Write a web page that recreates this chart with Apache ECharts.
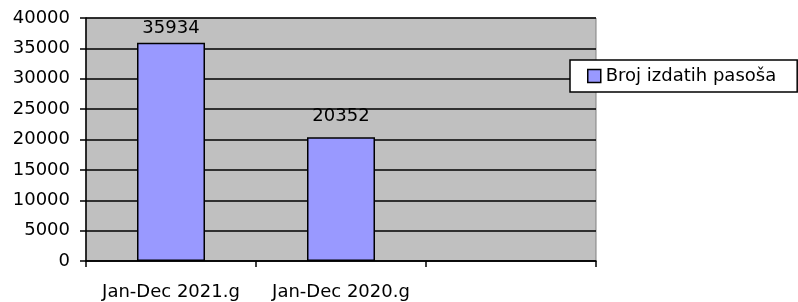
<!DOCTYPE html>
<html style="height: 100%">
<head>
  <meta charset="utf-8">
</head>
<body style="height: 100%; margin: 0; background: #fff">
  <div id="container" style="width: 798px; height: 302px"></div>
  <script type="text/javascript" src="https://cdn.jsdelivr.net/npm/echarts@6/dist/echarts.min.js"></script>
  <script type="text/javascript">
    var categories = ['Jan-Dec 2021.g', 'Jan-Dec 2020.g', ''];
    var passports = [35934, 20352, null];
    var seriesName = 'Broj izdatih pasoša';

    var dom = document.getElementById('container');
    var myChart = echarts.init(dom);

    // label gaps differ a little per bar in the original
    var labelGap = [5, 12, 5];
    var barData = passports.map(function (v, i) {
      return { value: v, label: { distance: labelGap[i] } };
    });

    var option = {
      animation: false,
      backgroundColor: '#ffffff',
      textStyle: {
        fontFamily: 'DejaVu Sans',
        color: '#000'
      },
      grid: {
        left: 86,
        top: 18,
        right: 202,
        bottom: 41,
        show: true,
        backgroundColor: '#c0c0c0',
        borderColor: '#808080',
        borderWidth: 1
      },
      legend: {
        data: [seriesName],
        left: 570,
        top: 60,
        orient: 'vertical',
        itemWidth: 13,
        itemHeight: 13,
        itemGap: 0,
        padding: [7, 21, 7, 17],
        backgroundColor: '#ffffff',
        borderColor: '#000',
        borderWidth: 1.5,
        borderRadius: 0,
        icon: 'rect',
        itemStyle: { borderColor: '#000', borderWidth: 1.5 },
        textStyle: { fontSize: 18, color: '#000', fontFamily: 'DejaVu Sans' }
      },
      xAxis: {
        type: 'category',
        data: categories,
        axisLine: { lineStyle: { color: '#000', width: 1.5 } },
        axisTick: { show: true, length: 6, lineStyle: { color: '#000', width: 1.5 } },
        axisLabel: { interval: 0, fontSize: 18, color: '#000', margin: 22, fontFamily: 'DejaVu Sans' },
        splitLine: { show: false }
      },
      yAxis: {
        type: 'value',
        min: 0,
        max: 40000,
        interval: 5000,
        axisLine: { show: true, lineStyle: { color: '#000', width: 1.5 } },
        axisTick: { show: true, length: 6, lineStyle: { color: '#000', width: 1.5 } },
        axisLabel: {
          fontSize: 18, color: '#000', margin: 16, fontFamily: 'DejaVu Sans',
          formatter: function (v) { return String(v); }
        },
        splitLine: { show: true, lineStyle: { color: '#000', width: 1.5 } }
      },
      series: [
        {
          name: seriesName,
          type: 'bar',
          data: barData,
          barWidth: '40%',
          itemStyle: { color: '#9999ff', borderColor: '#000', borderWidth: 1.5 },
          label: {
            show: true,
            position: 'top',
            fontSize: 18,
            color: '#000',
            fontFamily: 'DejaVu Sans'
          }
        }
      ]
    };
    myChart.setOption(option);
  </script>
</body>
</html>
